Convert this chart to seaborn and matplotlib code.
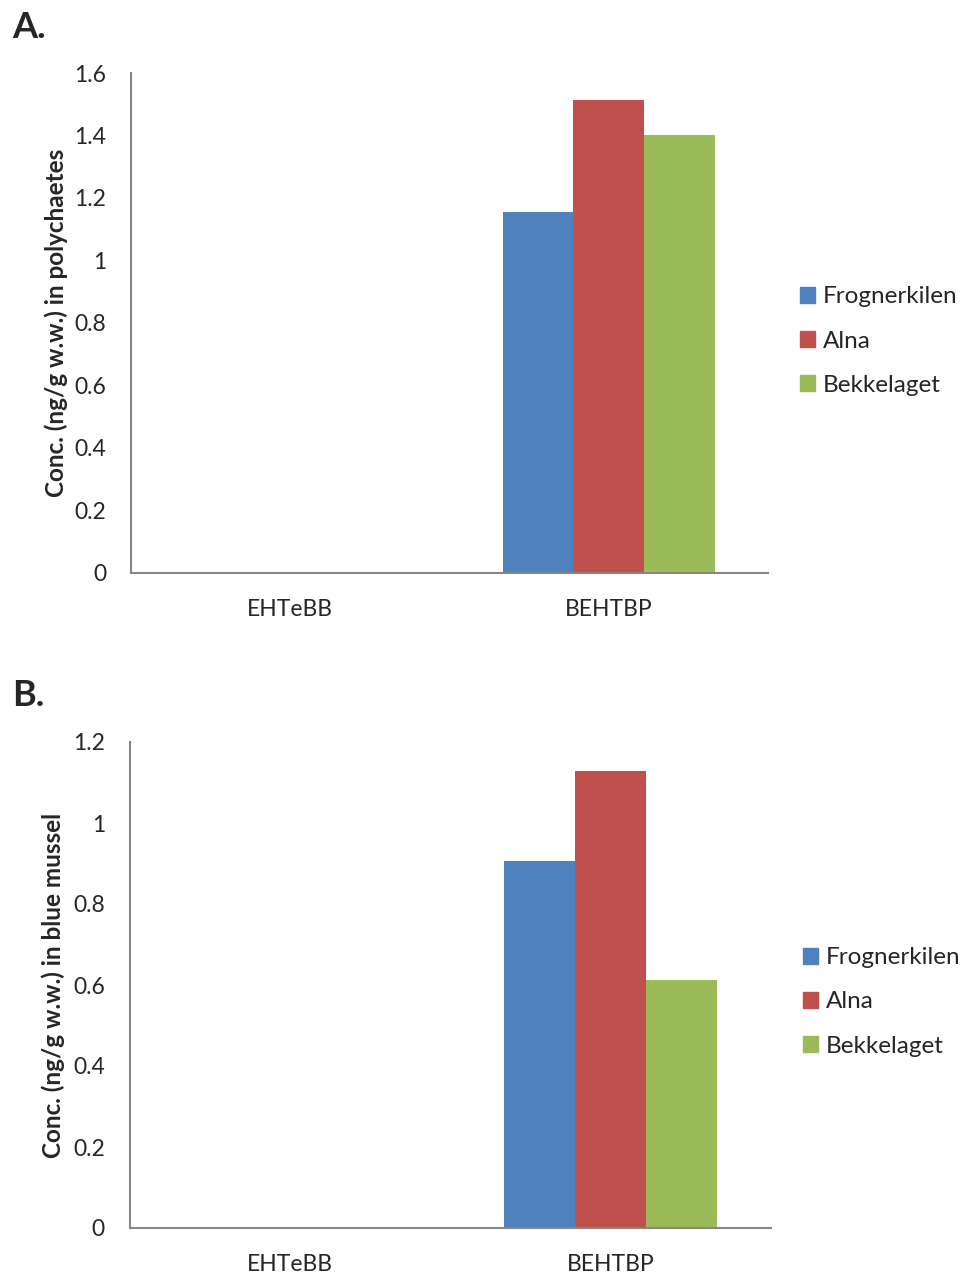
import numpy as np
import pandas as pd
import matplotlib
matplotlib.use('Agg')
import matplotlib.pyplot as plt
import seaborn as sns

compounds = ['EHTeBB', 'BEHTBP']
sites = ['Frognerkilen', 'Alna', 'Bekkelaget']
colors = ['#4F81BD', '#C0504D', '#9BBB59']

# values (EHTeBB not detected -> 0)
polychaetes = {'Frognerkilen': [0, 1.155], 'Alna': [0, 1.515], 'Bekkelaget': [0, 1.402]}
mussel = {'Frognerkilen': [0, 0.905], 'Alna': [0, 1.128], 'Bekkelaget': [0, 0.613]}

sns.set_style('white')
plt.rcParams['font.family'] = ['Lato', 'DejaVu Sans']
axis_col = '#868686'


def to_long(d):
    rows = []
    for s in sites:
        for c, v in zip(compounds, d[s]):
            rows.append({'compound': c, 'site': s, 'conc': v})
    return pd.DataFrame(rows)


fig = plt.figure(figsize=(9.62, 12.78), dpi=100)
ax1 = fig.add_axes([131/962, 1-573/1278, 637/962, 500/1278])
ax2 = fig.add_axes([130/962, 1-1228/1278, 641/962, 486/1278])

panels = [(ax1, polychaetes, 1.6, np.arange(0, 1.61, 0.2), 'Conc. (ng/g w.w.) in polychaetes', 341, 800, 4),
          (ax2, mussel, 1.2, np.arange(0, 1.21, 0.2), 'Conc. (ng/g w.w.) in blue mussel', 1002, 803, 6)]

for ax, d, ymax, yt, ylab, legy, legx, lpad in panels:
    df = to_long(d)
    sns.barplot(data=df, x='compound', y='conc', hue='site', hue_order=sites,
                palette=colors, width=0.666, gap=0, ax=ax, saturation=1,
                errorbar=None, linewidth=0)
    ax.set_xlim(-0.5, 1.5)
    ax.set_ylim(0, ymax)
    ax.set_yticks(yt)
    ax.set_yticklabels(['0' if v == 0 else ('1' if abs(v-1) < 1e-9 else f'{v:.1f}') for v in yt])
    ax.set_xticks([0, 1])
    ax.set_xticklabels(compounds)
    ax.set_xticks([-0.5, 0.5, 1.5], minor=True)
    ax.tick_params(axis='x', which='major', length=0, pad=19, labelsize=16.5)
    ax.tick_params(axis='x', which='minor', length=6, width=1.2, color=axis_col, direction='out')
    ax.tick_params(axis='y', length=6, width=1.2, color=axis_col, direction='out', pad=12, labelsize=16.5)
    for sp in ['top', 'right']:
        ax.spines[sp].set_visible(False)
    for sp in ['left', 'bottom']:
        ax.spines[sp].set_color(axis_col)
        ax.spines[sp].set_linewidth(1.5)
    ax.set_xlabel('')
    ax.set_ylabel(ylab, fontsize=17.5, fontweight='bold', labelpad=lpad)
    ax.get_legend().remove()
    handles = [plt.Rectangle((0, 0), 1, 1, color=c) for c in colors]
    fig.legend(handles, sites, loc='center left', bbox_to_anchor=(legx/962, 1-legy/1278), frameon=False,
               fontsize=17.5, handlelength=0.6, handleheight=0.6, handletextpad=0.35,
               labelspacing=0.95, borderaxespad=0, borderpad=0)

fig.text(12/962, 1-28/1278, 'A.', fontsize=26, fontweight='bold', va='center', ha='left')
fig.text(12/962, 1-695/1278, 'B.', fontsize=26, fontweight='bold', va='center', ha='left')

fig.savefig('out.png', dpi=100)
